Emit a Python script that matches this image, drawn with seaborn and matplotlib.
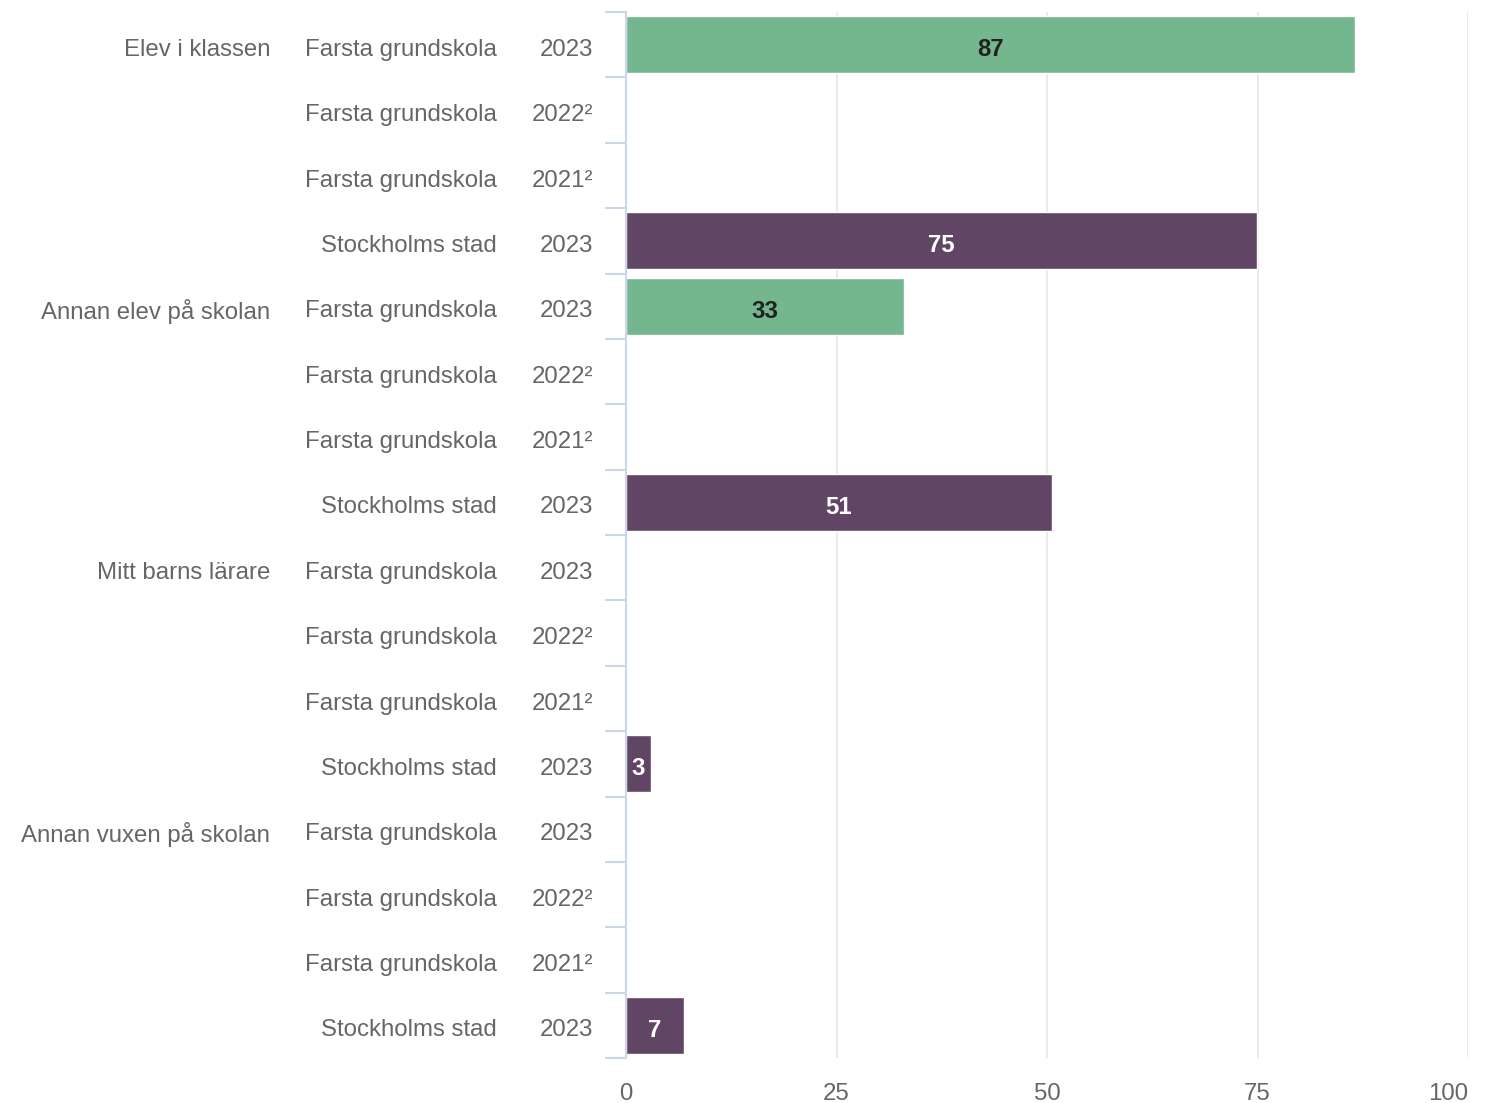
import numpy as np
import pandas as pd
import matplotlib
matplotlib.use("Agg")
import matplotlib.pyplot as plt
import matplotlib.transforms as mtransforms
import seaborn as sns

groups = ["Elev i klassen", "Annan elev på skolan", "Mitt barns lärare", "Annan vuxen på skolan"]
units = ["Farsta grundskola", "Farsta grundskola", "Farsta grundskola", "Stockholms stad"]
years = ["2023", "2022²", "2021²", "2023"]
series = ["Farsta grundskola", "Farsta 2022", "Farsta 2021", "Stockholms stad"]
values = [
    [86.6, np.nan, np.nan, 74.9],
    [33.0, np.nan, np.nan, 50.6],
    [np.nan, np.nan, np.nan, 2.97],
    [np.nan, np.nan, np.nan, 6.9],
]
colors = {"Farsta grundskola": "#74b78f", "Farsta 2022": "#74b78f",
          "Farsta 2021": "#74b78f", "Stockholms stad": "#604664"}

rows = []
for g, vals in zip(groups, values):
    for i, v in enumerate(vals):
        rows.append({"row": f"{g}|{i}", "group": g, "unit": units[i],
                     "year": years[i], "series": series[i], "value": v})
df = pd.DataFrame(rows)

sns.set_style("white")
plt.rcParams["font.family"] = ["Liberation Sans", "DejaVu Sans"]

fig = plt.figure(figsize=(14.87, 11.03), dpi=100)
ax = fig.add_axes([626 / 1487, 1 - 1058 / 1103, (1468 - 626) / 1487, (1058 - 12) / 1103])

sns.barplot(data=df, y="row", x="value", hue="series", palette=colors,
            orient="h", dodge=False, width=0.87, legend=False, saturation=1,
            edgecolor="white", linewidth=1, ax=ax)

fs = 17.3
ax.set_xlim(0, 100)
ax.set_ylim(len(df) - 0.5, -0.5)
ax.set_xticks([0, 25, 50, 75, 100])
ax.set_xticklabels(["0", "25", "50", "75", "100"], color="#666666", fontsize=fs)
ax.get_xticklabels()[-1].set_ha("right")
ax.tick_params(axis="x", length=0, pad=18)
ax.grid(axis="x", color="#e6e6e6", linewidth=1.2)
ax.set_axisbelow(True)
ax.set_xlabel("")
ax.set_ylabel("")
for s in ["top", "right", "bottom"]:
    ax.spines[s].set_visible(False)
ax.spines["left"].set_color("#ccd6eb")
ax.spines["left"].set_linewidth(1.5)

ax.set_yticks(np.arange(len(df)))
ax.set_yticklabels([])
ax.tick_params(axis="y", which="major", length=0)
ax.set_yticks(np.arange(-0.5, len(df), 1.0), minor=True)
ax.tick_params(axis="y", which="minor", left=True, length=15, color="#ccd6eb", width=1.5)

trans = mtransforms.blended_transform_factory(fig.transFigure, ax.transData)
for i, r in df.iterrows():
    y = i + 0.04
    if r["row"].endswith("|0"):
        ax.text(270 / 1487, y, r["group"], transform=trans, ha="right", va="center_baseline",
                color="#666666", fontsize=fs)
    ax.text(497 / 1487, y, r["unit"], transform=trans, ha="right", va="center_baseline",
            color="#666666", fontsize=fs)
    ax.text(593 / 1487, y, r["year"], transform=trans, ha="right", va="center_baseline",
            color="#666666", fontsize=fs)
    if not np.isnan(r["value"]):
        tc = "#222222" if r["series"] != "Stockholms stad" else "white"
        ax.text(r["value"] / 2, i + 0.04, f"{r['value']:.0f}", ha="center", va="center_baseline",
                color=tc, fontsize=fs, fontweight="bold")

fig.savefig("out.png", dpi=100)
